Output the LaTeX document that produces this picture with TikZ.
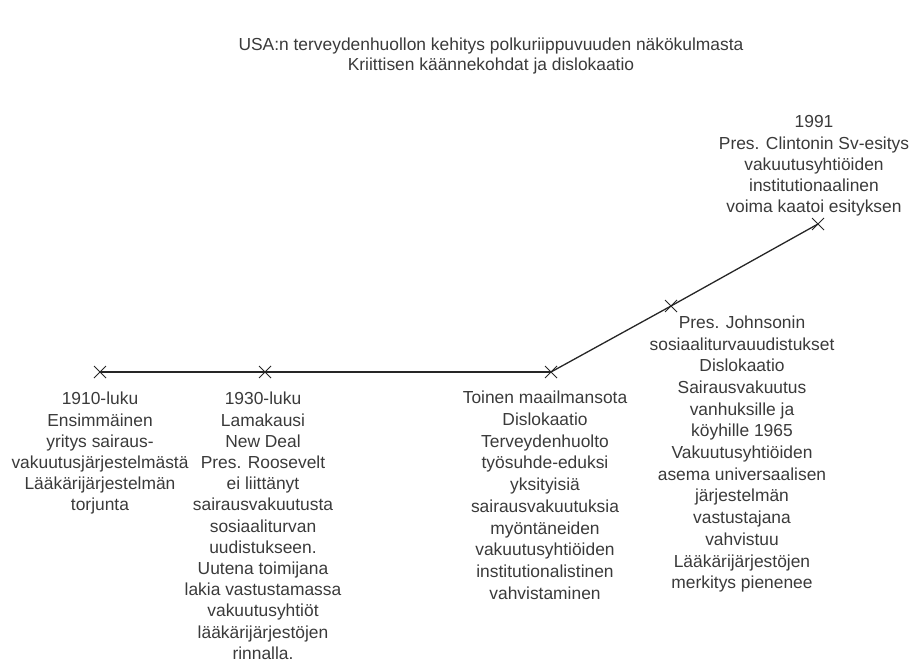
\documentclass[tikz,border=0pt]{standalone}
\usepackage{fontspec}
\setmainfont{Liberation Sans}
\usetikzlibrary{shapes.misc}
\definecolor{txt}{HTML}{3A3A3A}
\begin{document}
\begin{tikzpicture}[x=1pt,y=-1pt,
  xmark/.style={draw=black!85,cross out,minimum size=11pt,inner sep=0pt,line width=1pt},
  tline/.style={draw=black!85,line width=1.8pt},
  dline/.style={draw=black!85,line width=1.3pt},
  lbl/.style={anchor=north,align=center,inner sep=0pt,text=txt},
  tight/.style={font=\fontsize{17.4}{21.2}\selectfont},
  loose/.style={font=\fontsize{17.4}{21.7}\selectfont}]
\useasboundingbox (0,0) rectangle (912,666);
\node[lbl,font=\fontsize{17.4}{20}\selectfont] (title) at (491,37.5) {USA:n terveydenhuollon kehitys polkuriippuvuuden näkökulmasta\\Kriittisen käännekohdat ja dislokaatio};
\node[xmark] (m1) at (100,372) {};
\node[xmark] (m2) at (265,372) {};
\node[xmark] (m3) at (551,372) {};
\node[xmark] (m4) at (671,306) {};
\node[xmark] (m5) at (818,224) {};
\draw[tline] (m1.center) -- (m2.center) -- (m3.center);
\draw[dline] (m3.center) -- (m4.center) -- (m5.center);
\node[lbl,tight] (t1) at (100,392) {1910-luku\\Ensimmäinen\\yritys sairaus-\\vakuutusjärjestelmästä\\Lääkärijärjestelmän\\torjunta};
\node[lbl,tight] (t2) at (263,392) {1930-luku\\Lamakausi\\New Deal\\Pres. Roosevelt\\ei liittänyt\\sairausvakuutusta\\sosiaaliturvan\\uudistukseen.\\Uutena toimijana\\lakia vastustamassa\\vakuutusyhtiöt\\lääkärijärjestöjen\\rinnalla.};
\node[lbl,loose] (t3) at (545,391) {Toinen maailmansota\\Dislokaatio\\Terveydenhuolto\\työsuhde-eduksi\\yksityisiä\\sairausvakuutuksia\\myöntäneiden\\vakuutusyhtiöiden\\institutionalistinen\\vahvistaminen};
\node[lbl,loose] (t4) at (742,315.5) {Pres. Johnsonin\\sosiaaliturvauudistukset\\Dislokaatio\\Sairausvakuutus\\vanhuksille ja\\köyhille 1965\\Vakuutusyhtiöiden\\asema universaalisen\\järjestelmän\\vastustajana\\vahvistuu\\Lääkärijärjestöjen\\merkitys pienenee};
\node[lbl,tight] (t5) at (814,115.5) {1991\\Pres. Clintonin Sv-esitys\\vakuutusyhtiöiden\\institutionaalinen\\voima kaatoi esityksen};
\end{tikzpicture}
\end{document}
